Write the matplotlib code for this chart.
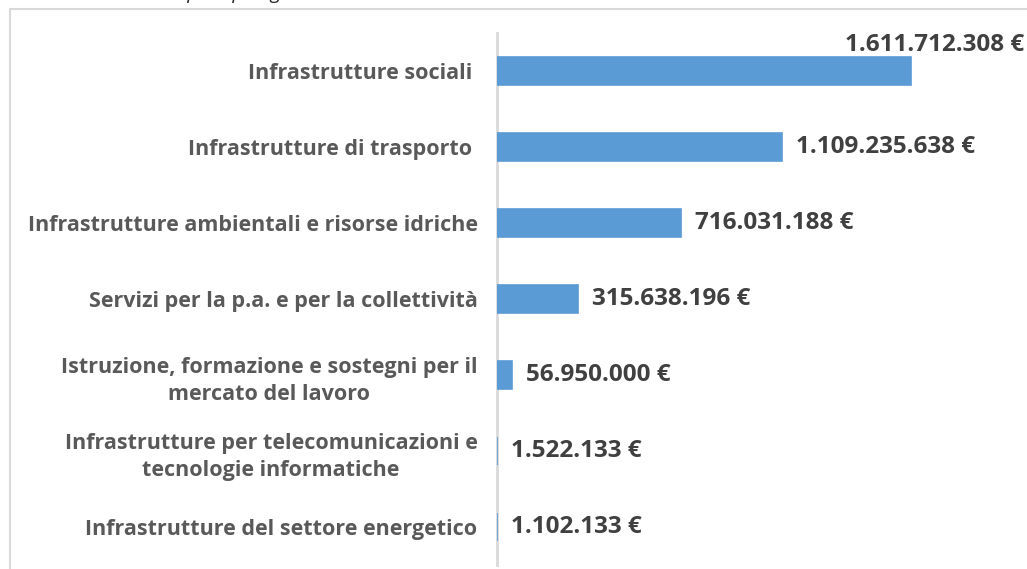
import matplotlib.pyplot as plt
from matplotlib.patches import Rectangle

categories = [
    'Infrastrutture sociali ',
    'Infrastrutture di trasporto ',
    'Infrastrutture ambientali e risorse idriche',
    'Servizi per la p.a. e per la collettività',
    'Istruzione, formazione e sostegni per il\nmercato del lavoro',
    'Infrastrutture per telecomunicazioni e\ntecnologie informatiche',
    'Infrastrutture del settore energetico',
]
values = [1611712308, 1109235638, 716031188, 315638196, 56950000, 1522133, 1102133]
value_labels = ['1.611.712.308 €', '1.109.235.638 €', '716.031.188 €', '315.638.196 €',
                '56.950.000 €', '1.522.133 €', '1.102.133 €']
caption = 'Ammontare richiesto per tipologia di investimento'

plt.rcParams['font.family'] = ['Open Sans', 'DejaVu Sans']

W, H = 1027, 569
fig = plt.figure(figsize=(W / 100, H / 100), dpi=100)

# chart frame (clipped at right/bottom like the screenshot)
fig.patches.append(Rectangle((10 / W, -0.05), 1.1, 1 - 9 / H + 0.05, transform=fig.transFigure,
                             fill=False, edgecolor='#d9d9d9', linewidth=1.5))
# caption above the chart, cut off by the screenshot's top edge
fig.text(2 / W, 1 + 1 / H, caption, fontsize=14, style='italic', color='#222222',
         ha='left', va='baseline')

ax = fig.add_axes([497 / W, 1 - 565 / H, (1020 - 497) / W, (565 - 33) / H])
pos = list(range(len(categories)))
ax.barh(pos, values, height=0.36, color='#5B9BD5', edgecolor='#5B9BD5', linewidth=1.2,
        zorder=3)
ax.set_ylim(len(categories) - 0.5, -0.5)
ax.set_xlim(0, values[0] * (1020 - 497) / 414)

ax.set_yticks(pos)
ax.set_yticklabels(categories, fontsize=15.5, fontweight='bold', color='#595959',
                   multialignment='center', linespacing=1.4)
ax.tick_params(axis='y', length=0, pad=14)
ax.set_xticks([])
for s in ['top', 'right', 'bottom']:
    ax.spines[s].set_visible(False)
ax.spines['left'].set_color('#d9d9d9')
ax.spines['left'].set_linewidth(2)
ax.spines['left'].set_zorder(1)

for i, (v, lab) in enumerate(zip(values, value_labels)):
    if i == 0:
        # label does not fit right of the bar: sits above its end
        ax.annotate(lab, xy=(1.0, i - 0.22), xycoords=('axes fraction', 'data'),
                    xytext=(3, -2), textcoords='offset points', ha='right', va='bottom',
                    fontsize=17.5, fontweight='bold', color='#404040')
    else:
        ax.annotate(lab, xy=(v, i), xytext=(10, 0), textcoords='offset points',
                    ha='left', va='center', fontsize=17.5, fontweight='bold', color='#404040')

fig.savefig('out.png', dpi=100)
